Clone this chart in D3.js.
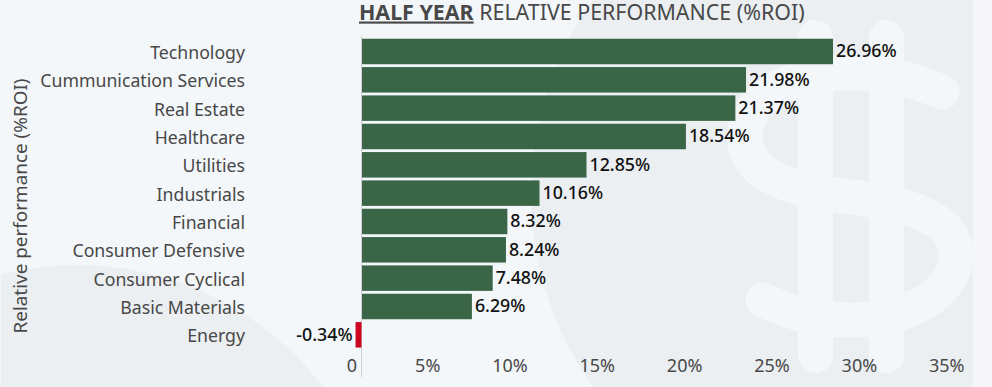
<!DOCTYPE html>
<html>
<head>
<meta charset="utf-8">
<script src="https://cdn.jsdelivr.net/npm/d3@7"></script>
<style>
  html, body { margin: 0; padding: 0; background: #f6f6f8; overflow: hidden; }
  svg { display: block; font-family: "Noto Sans", sans-serif; }
  .axis text { fill: #484848; }
</style>
</head>
<body>
<div id="chart"></div>
<script>
const sectors = ["Technology", "Cummunication Services", "Real Estate", "Healthcare", "Utilities",
  "Industrials", "Financial", "Consumer Defensive", "Consumer Cyclical", "Basic Materials", "Energy"];
const roi = [26.96, 21.98, 21.37, 18.54, 12.85, 10.16, 8.32, 8.24, 7.48, 6.29, -0.34];
const xTicks = [0, 5, 10, 15, 20, 25, 30, 35];

const width = 992;
const height = 387;
const panelLeft = 1;
const panelRight = 973;

const svg = d3.select("#chart").append("svg")
  .attr("width", width)
  .attr("height", height);

// Background panel with the circles and the dollar sign
svg.append("clipPath").attr("id", "panel")
  .append("rect")
  .attr("x", panelLeft)
  .attr("y", 0)
  .attr("width", panelRight - panelLeft)
  .attr("height", height);

const lightBg = "#f3f7fa";
const darkBg = "#ebeff2";
const bg = svg.append("g").attr("clip-path", "url(#panel)");

bg.append("rect")
  .attr("x", 0).attr("y", 0)
  .attr("width", width).attr("height", height)
  .attr("fill", lightBg);
bg.append("circle").attr("cx", 863).attr("cy", 193.5).attr("r", 332).attr("fill", darkBg);
bg.append("circle").attr("cx", 77).attr("cy", 574).attr("r", 309).attr("fill", darkBg);

bg.append("path")
  .attr("d", "M942,92 C915,80 885,73 851,73 C790,73 745,95 745,138 C745,175 790,190 851,197 C915,205 956,220 956,255 C956,295 905,320 851,320 C815,320 790,313 763,300")
  .attr("fill", "none")
  .attr("stroke", lightBg)
  .attr("stroke-width", 35)
  .attr("stroke-linecap", "round");

[815.5, 886.5].forEach(stemX => {
  bg.append("line")
    .attr("x1", stemX).attr("x2", stemX)
    .attr("y1", 37.5).attr("y2", 355.5)
    .attr("stroke", lightBg)
    .attr("stroke-width", 35)
    .attr("stroke-linecap", "round");
});

// Scales
const xScale = d3.scaleLinear()
  .domain([0, 35])
  .range([361.5, 973]);

const yScale = d3.scaleBand()
  .domain(sectors)
  .range([35.9, 350.4])
  .padding(0.1);

// Axes
svg.append("g")
  .attr("class", "axis")
  .attr("transform", "translate(245,2)")
  .call(d3.axisLeft(yScale).tickSize(0).tickPadding(0))
  .attr("font-family", null)
  .call(g => g.select(".domain").remove())
  .selectAll("text")
  .attr("font-size", "17.7px");

svg.append("g")
  .attr("class", "axis")
  .attr("transform", "translate(0,357)")
  .call(d3.axisBottom(xScale).tickValues(xTicks).tickSize(0).tickPadding(2)
    .tickFormat(d => d === 0 ? "0" : d + "%"))
  .attr("font-family", null)
  .call(g => g.select(".domain").remove())
  .selectAll("text")
  .attr("font-size", "18px")
  .attr("text-anchor", "end")
  .attr("dx", d => d === 0 ? -5 : -9);

svg.append("line")
  .attr("x1", xScale(0)).attr("x2", xScale(0))
  .attr("y1", 36).attr("y2", 377)
  .attr("stroke", "#cfd2d4");

// Bars
const barData = sectors.map((name, i) => ({ name, value: roi[i] }));

svg.selectAll("rect.bar")
  .data(barData)
  .enter().append("rect")
  .attr("class", "bar")
  .attr("x", d => Math.min(xScale(d.value), xScale(0) + 0.5))
  .attr("y", d => yScale(d.name))
  .attr("width", d => Math.abs(xScale(d.value) - xScale(0)))
  .attr("height", yScale.bandwidth())
  .attr("fill", d => d.value < 0 ? "#cc0420" : "#3a6647");

// Value labels
svg.selectAll("text.value")
  .data(barData)
  .enter().append("text")
  .attr("class", "value")
  .attr("x", d => d.value < 0 ? xScale(d.value) - 3 : xScale(d.value) + 3.5)
  .attr("y", d => yScale(d.name) + yScale.bandwidth() / 2)
  .attr("dy", "0.32em")
  .attr("text-anchor", d => d.value < 0 ? "end" : "start")
  .attr("font-size", "17.8px")
  .attr("font-weight", 500)
  .attr("fill", "#111")
  .text(d => d.value.toFixed(2) + "%");

// Axis label
svg.append("text")
  .attr("transform", "translate(21,206) rotate(-90)")
  .attr("dy", "0.32em")
  .attr("text-anchor", "middle")
  .attr("font-size", "18.9px")
  .attr("fill", "#484848")
  .text("Relative performance (%ROI)");

// Title
const title = svg.append("text")
  .attr("x", 359)
  .attr("y", 19.5)
  .attr("font-size", "21.4px")
  .attr("fill", "#484848");
title.append("tspan")
  .attr("font-weight", 700)
  .attr("text-decoration", "underline")
  .text("HALF YEAR");
title.append("tspan").text(" RELATIVE PERFORMANCE (%ROI)");
</script>
</body>
</html>
